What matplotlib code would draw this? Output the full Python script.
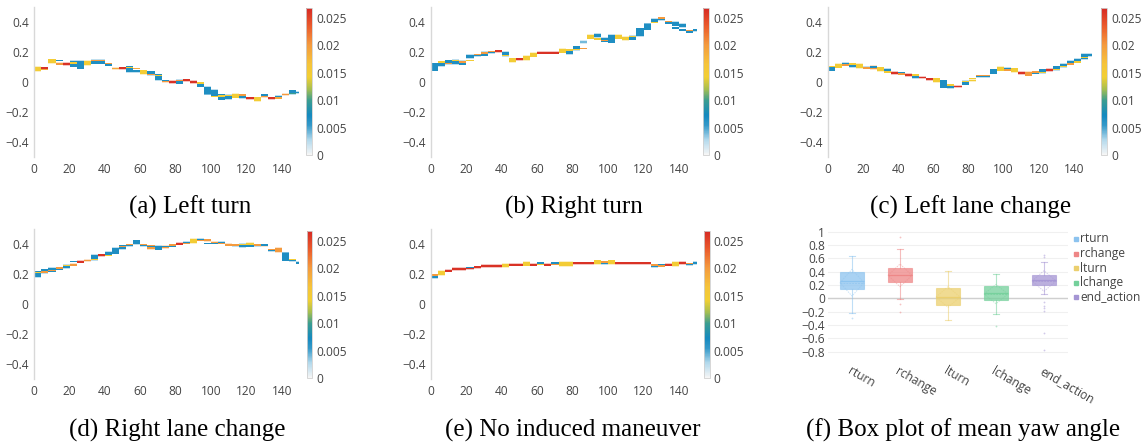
import numpy as np
import matplotlib
matplotlib.use('Agg')
import matplotlib.pyplot as plt
from matplotlib.colors import LinearSegmentedColormap, Normalize, to_rgba
from matplotlib.cm import ScalarMappable
from matplotlib.lines import Line2D

# ---- colour-value shorthands (colour-bar units) ----
B, LB, G, Y, O, LO, R = 0.0066, 0.0040, 0.0100, 0.0148, 0.0200, 0.0190, 0.0262
N = None

t_start = list(range(0, 152, 4))  # start of each 4-step bin

# ---- (a) Left turn ----
a_y = [0.087, 0.092, 0.138, 0.122, 0.120, 0.122, 0.115, 0.127, 0.135, 0.135, 0.115, 0.090, 0.091, 0.085, 0.072, 0.066, 0.058, 0.033, 0.003, 0.000, 0.002, 0.011, 0.000, -0.018, -0.058, -0.073, -0.100, -0.100, -0.092, -0.097, -0.108, -0.114, -0.097, -0.108, -0.100, -0.083, -0.067, -0.070]
a_c = [Y, R, Y, O, R, B, B, Y, B, B, B, LO, R, B, B, Y, B, B, O, R, B, R, R, B, B, B, B, B, Y, B, R, Y, O, R, B, O, B, B]
a_h = [2, 1, 2, 1, 1, 3, 4, 2, 2, 2, 1, 1, 1, 3, 1, 2, 2, 3, 1, 1, 2, 1, 1, 2, 4, 3, 3, 2, 2, 2, 1, 2, 1, 1, 1, 1, 2, 1]
a_y2 = [N, 0.085, N, 0.142, N, 0.128, N, N, 0.142, 0.143, 0.122, N, N, 0.098, 0.090, N, 0.050, 0.045, 0.011, N, 0.011, N, N, -0.008, -0.084, -0.097, -0.092, -0.090, N, -0.088, N, N, -0.088, N, -0.108, N, -0.075, N]
a_c2 = [N, LO, N, B, N, Y, N, N, O, O, O, N, N, Y, LO, N, O, Y, B, N, O, N, N, Y, LB, Y, Y, Y, N, O, N, N, B, N, LO, N, G, N]

# ---- (b) Right turn ----
b_y = [0.100, 0.120, 0.132, 0.133, 0.128, 0.170, 0.177, 0.188, 0.197, 0.205, 0.187, 0.146, 0.152, 0.160, 0.181, 0.195, 0.195, 0.195, 0.209, 0.200, 0.225, 0.267, 0.302, 0.310, 0.282, 0.288, 0.302, 0.290, 0.294, 0.332, 0.368, 0.410, 0.418, 0.396, 0.388, 0.376, 0.335, 0.344]
b_c = [B, B, B, B, B, B, B, B, B, R, B, Y, R, Y, Y, R, R, R, Y, B, B, LB, Y, B, B, B, Y, Y, B, B, B, B, B, B, B, B, B, B]
b_h = [4, 2, 2, 2, 2, 2, 1, 2, 1, 1, 2, 2, 1, 2, 2, 1, 1, 1, 2, 2, 2, 1, 2, 2, 2, 4, 2, 2, 2, 4, 3, 2, 1, 1, 2, 2, 1, 1]
b_y2 = [N, 0.133, 0.122, 0.142, 0.135, 0.144, 0.184, 0.194, 0.204, N, 0.177, N, N, N, N, N, N, N, N, 0.213, 0.216, 0.224, N, 0.288, 0.276, N, N, N, 0.303, N, 0.390, 0.398, 0.426, 0.404, 0.360, 0.348, 0.343, N]
b_c2 = [N, Y, O, Y, O, Y, O, O, O, N, Y, N, N, N, N, N, N, N, N, Y, Y, O, N, Y, O, N, N, N, Y, N, LB, Y, O, O, B, B, O, N]

# ---- (c) Left lane change ----
c_y = [0.088, 0.108, 0.122, 0.110, 0.107, 0.097, 0.097, 0.085, 0.075, 0.060, 0.058, 0.047, 0.038, 0.030, 0.019, 0.013, -0.013, -0.028, -0.030, -0.005, 0.010, 0.037, 0.037, 0.073, 0.088, 0.087, 0.078, 0.060, 0.055, 0.062, 0.073, 0.080, 0.092, 0.110, 0.128, 0.142, 0.170, 0.180]
c_c = [B, Y, B, B, Y, B, O, Y, B, R, B, R, B, R, R, Y, B, B, R, B, Y, B, B, B, Y, B, Y, R, O, B, B, R, B, B, B, B, B, B]
c_h = [2, 2, 1, 2, 2, 1, 2, 2, 2, 1, 1, 1, 2, 1, 1, 2, 4, 2, 1, 2, 1, 1, 1, 2, 2, 1, 2, 1, 2, 1, 2, 1, 2, 2, 2, 2, 3, 1]
c_y2 = [0.102, N, 0.114, 0.120, N, 0.092, 0.101, N, 0.066, N, 0.053, N, 0.047, N, N, N, N, -0.020, N, 0.004, 0.025, 0.042, 0.045, 0.058, N, 0.080, N, N, N, 0.068, 0.064, N, 0.084, 0.102, 0.120, 0.135, 0.162, N]
c_c2 = [Y, N, O, Y, N, O, B, N, Y, N, O, N, Y, N, N, N, N, Y, N, Y, Y, O, O, B, N, O, N, N, N, O, Y, N, Y, Y, O, Y, Y, N]

# ---- (d) Right lane change ----
d_y = [0.198, 0.218, 0.228, 0.236, 0.250, 0.262, 0.282, 0.290, 0.310, 0.325, 0.335, 0.355, 0.378, 0.390, 0.412, 0.392, 0.378, 0.375, 0.380, 0.388, 0.402, 0.410, 0.420, 0.430, 0.425, 0.410, 0.410, 0.395, 0.390, 0.390, 0.395, 0.390, 0.390, 0.358, 0.360, 0.315, 0.290, 0.275]
d_c = [B, B, B, B, B, O, R, O, B, R, B, B, B, B, B, B, O, B, O, B, R, B, Y, B, O, O, B, O, B, B, Y, B, O, B, O, B, B, B]
d_h = [3, 2, 2, 1, 2, 1, 1, 1, 3, 1, 2, 3, 2, 1, 2, 1, 2, 2, 1, 1, 1, 1, 2, 1, 1, 1, 1, 1, 1, 2, 2, 1, 1, 1, 2, 4, 1, 1]
d_y2 = [0.210, 0.212, 0.222, 0.240, 0.258, 0.282, N, N, 0.298, N, 0.322, N, 0.385, 0.396, N, 0.396, 0.382, N, 0.384, 0.395, N, 0.404, N, 0.424, 0.402, 0.404, 0.404, N, 0.395, 0.396, 0.388, 0.395, 0.394, 0.362, N, 0.345, 0.298, N]
d_c2 = [Y, O, O, O, Y, B, N, N, Y, N, Y, N, O, O, N, O, B, N, B, O, N, O, N, O, B, B, O, N, O, Y, B, O, B, O, N, LB, Y, N]

# ---- (e) No induced maneuver ----
e_y = [0.185, 0.207, 0.222, 0.233, 0.233, 0.238, 0.244, 0.253, 0.253, 0.253, 0.256, 0.262, 0.262, 0.268, 0.262, 0.268, 0.262, 0.268, 0.267, 0.267, 0.271, 0.271, 0.271, 0.278, 0.272, 0.278, 0.271, 0.271, 0.271, 0.271, 0.271, 0.254, 0.256, 0.262, 0.267, 0.273, 0.265, 0.273]
e_c = [B, Y, R, R, R, R, R, R, R, R, Y, R, R, Y, R, Y, R, O, Y, Y, R, R, R, Y, B, Y, R, R, R, R, R, B, O, R, Y, R, B, B]
e_h = [2, 2, 1, 1, 1, 1, 1, 1, 1, 1, 2, 1, 1, 2, 1, 1, 1, 1, 2, 2, 1, 1, 1, 2, 1, 2, 1, 1, 1, 1, 1, 1, 1, 1, 2, 1, 1, 1]
e_y2 = [0.193, N, N, N, N, 0.243, N, N, N, N, N, N, N, N, N, 0.274, N, 0.273, N, N, N, N, N, N, 0.279, N, N, N, N, N, N, 0.260, 0.262, N, N, N, 0.271, N]
e_c2 = [O, N, N, N, N, B, N, N, N, N, N, N, N, N, N, B, N, B, N, N, N, N, N, N, O, N, N, N, N, N, N, O, B, N, N, N, O, N]

captions = ['(a) Left turn', '(b) Right turn', '(c) Left lane change',
            '(d) Right lane change', '(e) No induced maneuver',
            '(f) Box plot of mean yaw angle']

# ---- (f) box plot summary ----
cats = ['rturn', 'rchange', 'lturn', 'lchange', 'end_action']
box_q1 = [0.145, 0.25, -0.095, -0.03, 0.20]
box_med = [0.26, 0.355, 0.02, 0.075, 0.275]
box_q3 = [0.39, 0.455, 0.16, 0.18, 0.345]
box_lo = [-0.225, -0.01, -0.33, -0.23, 0.06]
box_hi = [0.64, 0.745, 0.415, 0.37, 0.54]
box_mean = [0.235, 0.345, 0.02, 0.065, 0.26]
box_sd = [0.20, 0.17, 0.155, 0.145, 0.155]
box_out = [[-0.30], [0.925, -0.09, -0.2], [], [-0.41],
           [0.625, 0.65, -0.06, -0.115, -0.15, -0.19, -0.515, -0.78]]
box_colors = ['#8cc3ef', '#ee8686', '#ebcf6e', '#74d09b', '#a595d4']

# ---------------------------------------------------------------
W, H = 1144, 446
fig = plt.figure(figsize=(W / 100, H / 100), dpi=100)
TICKFONT = 'Open Sans'
TCOL = '#444444'
TS = 8.6
CAPS = 18

cmap = LinearSegmentedColormap.from_list('yawc', [
    (0.0, '#f6f6f6'), (0.10, '#b3d9ec'), (0.20, '#3599c9'), (0.27, '#1489bf'),
    (0.37, '#3b9d90'), (0.45, '#a7bf50'), (0.53, '#f2cf33'), (0.62, '#f5c43a'),
    (0.75, '#f49a3e'), (0.88, '#ea5a2c'), (1.0, '#d62a24')])
norm = Normalize(0, 0.0268)


def fax(l, t, r, b):
    return fig.add_axes([l / W, 1 - b / H, (r - l) / W, (b - t) / H])


HU = 0.0125


def step_panel(rect, cbrect, ys, cs, hs, y2s, c2s, caption, capxy):
    ax = fax(*rect)
    xs = t_start[:len(ys)]
    hts = [h * HU for h in hs]
    # soft halo
    ax.bar(xs, [h + 0.009 for h in hts], bottom=[y - (h + 0.009) / 2 for y, h in zip(ys, hts)],
           width=4, align='edge', color=[to_rgba(cmap(norm(c)), 0.28) for c in cs], linewidth=0)
    ax.bar(xs, hts, bottom=[y - h / 2 for y, h in zip(ys, hts)], width=4, align='edge',
           color=[cmap(norm(c)) for c in cs], linewidth=0)
    sx = [x for x, v in zip(xs, y2s) if v is not None]
    sy = [v for v in y2s if v is not None]
    sc = [c for c in c2s if c is not None]
    ax.bar(sx, [HU * 0.8] * len(sx), bottom=[v - HU * 0.4 for v in sy], width=4, align='edge',
           color=[cmap(norm(c)) for c in sc], linewidth=0)
    ax.set_xlim(0, 150)
    ax.set_ylim(-0.5, 0.5)
    ax.set_xticks([0, 20, 40, 60, 80, 100, 120, 140])
    ax.set_yticks([-0.4, -0.2, 0, 0.2, 0.4])
    ax.set_yticklabels(['\u22120.4', '\u22120.2', '0', '0.2', '0.4'])
    for s in ['top', 'right', 'bottom']:
        ax.spines[s].set_visible(False)
    ax.spines['left'].set_color('#d8d8d8')
    ax.spines['left'].set_linewidth(1)
    ax.tick_params(length=0, labelsize=TS, labelcolor=TCOL, pad=4)
    for lab in ax.get_xticklabels() + ax.get_yticklabels():
        lab.set_fontfamily(TICKFONT)
    cax = fax(*cbrect)
    cb = fig.colorbar(ScalarMappable(norm=norm, cmap=cmap), cax=cax)
    cb.set_ticks([0, 0.005, 0.01, 0.015, 0.02, 0.025])
    cb.set_ticklabels(['0', '0.005', '0.01', '0.015', '0.02', '0.025'])
    cb.outline.set_edgecolor('#d0d0d0')
    cb.outline.set_linewidth(0.6)
    cax.tick_params(length=0, labelsize=TS, labelcolor=TCOL, pad=3)
    for lab in cax.get_yticklabels():
        lab.set_fontfamily(TICKFONT)
    fig.text(capxy[0] / W, 1 - capxy[1] / H, caption, ha='center', va='center',
             fontsize=CAPS, family='Liberation Serif', color='black')


step_panel((34.3, 7, 299.5, 157), (306, 8, 312, 155), a_y, a_c, a_h, a_y2, a_c2, captions[0], (190, 207))
step_panel((431, 7, 696.7, 157), (703, 8, 709, 155), b_y, b_c, b_h, b_y2, b_c2, captions[1], (574, 207))
step_panel((828, 7, 1091.5, 157), (1101, 8, 1107, 155), c_y, c_c, c_h, c_y2, c_c2, captions[2], (971, 207))
step_panel((34.3, 229, 299.5, 379), (306.5, 231, 312, 378), d_y, d_c, d_h, d_y2, d_c2, captions[3], (177, 430))
step_panel((431, 229, 696.7, 379), (704, 231, 709.5, 378), e_y, e_c, e_h, e_y2, e_c2, captions[4], (573, 430))

# ---- (f) box plot ----
axf = fax(828, 229, 1068, 356.4)
stats = []
for i, nm in enumerate(cats):
    stats.append(dict(label=nm, med=box_med[i], q1=box_q1[i], q3=box_q3[i],
                      whislo=box_lo[i], whishi=box_hi[i], fliers=box_out[i], mean=box_mean[i]))
bp = axf.bxp(stats, positions=range(len(cats)), widths=0.5, patch_artist=True,
             showfliers=True, showmeans=False, manage_ticks=False)
for i, col in enumerate(box_colors):
    bp['boxes'][i].set_facecolor(to_rgba(col, 0.75))
    bp['boxes'][i].set_edgecolor(to_rgba(col, 0.6))
    bp['boxes'][i].set_linewidth(0.8)
    bp['medians'][i].set_color(to_rgba(col, 0.9))
    bp['medians'][i].set_linewidth(0.9)
    for w in bp['whiskers'][2 * i:2 * i + 2] + bp['caps'][2 * i:2 * i + 2]:
        w.set_color(to_rgba(col, 0.55))
        w.set_linewidth(0.8)
    for c in bp['caps'][2 * i:2 * i + 2]:
        xd = c.get_xdata()
        m = np.mean(xd)
        c.set_xdata([m - 0.07, m + 0.07])
    fl = bp['fliers'][i]
    fl.set_marker('o')
    fl.set_markersize(1.3)
    fl.set_markerfacecolor(to_rgba(col, 0.5))
    fl.set_markeredgewidth(0)
    # sd diamond and mean line
    mu, sd = box_mean[i], box_sd[i]
    axf.plot([i - 0.25, i, i + 0.25, i, i - 0.25], [mu, mu + sd, mu, mu - sd, mu],
             color=to_rgba(col, 0.45), lw=0.7, ls=(0, (1.5, 1.0)))
    axf.plot([i - 0.25, i + 0.25], [mu, mu], color=to_rgba(col, 0.6), lw=0.7, ls=(0, (2, 1)))
axf.set_xlim(-0.5, 4.5)
axf.set_ylim(-0.87, 1.04)
yt = [-0.8, -0.6, -0.4, -0.2, 0, 0.2, 0.4, 0.6, 0.8, 1]
axf.set_yticks(yt)
axf.set_yticklabels(['\u22120.8', '\u22120.6', '\u22120.4', '\u22120.2', '0', '0.2', '0.4', '0.6', '0.8', '1'])
axf.grid(axis='y', color='#f0f0f0', lw=0.8)
axf.set_axisbelow(True)
axf.axhline(0, color='#cfcfcf', lw=1, zorder=1)
for s in axf.spines.values():
    s.set_visible(False)
axf.set_xticks(range(len(cats)))
axf.set_xticklabels(cats, rotation=-30, ha='left', va='top', rotation_mode='anchor')
axf.tick_params(length=0, labelsize=TS, labelcolor=TCOL)
axf.tick_params(axis='y', pad=2)
axf.tick_params(axis='x', pad=6)
for lab in axf.get_xticklabels() + axf.get_yticklabels():
    lab.set_fontfamily(TICKFONT)

for i, (nm, col) in enumerate(zip(cats, box_colors)):
    yy = 1 - (239 + 14.5 * i) / H
    fig.add_artist(Line2D([1075.5 / W], [yy], marker='s', markersize=2.6, color=col,
                          transform=fig.transFigure, lw=0))
    fig.text(1080 / W, yy, nm, ha='left', va='center', fontsize=TS, color=TCOL, family=TICKFONT)

fig.text(963 / W, 1 - 430 / H, captions[5], ha='center', va='center',
         fontsize=CAPS, family='Liberation Serif', color='black')

fig.savefig('out.png', dpi=100)
